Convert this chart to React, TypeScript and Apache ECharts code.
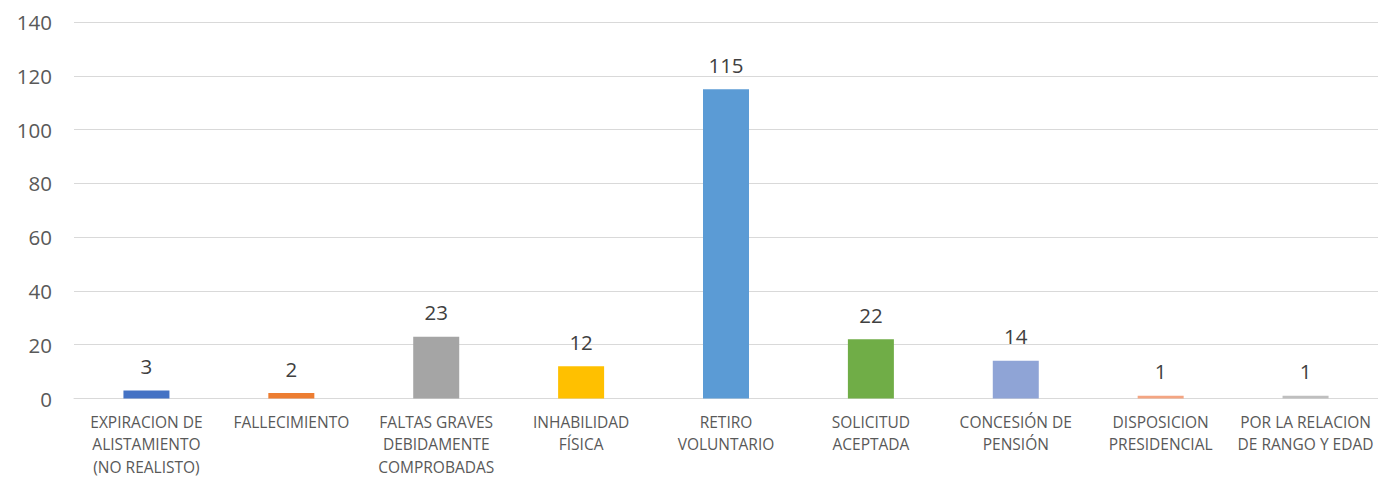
import React, { useEffect, useRef } from "react";
import * as echarts from "echarts";

const categories = [
  "EXPIRACION DE\nALISTAMIENTO\n(NO REALISTO)",
  "FALLECIMIENTO",
  "FALTAS GRAVES\nDEBIDAMENTE\nCOMPROBADAS",
  "INHABILIDAD\nFÍSICA",
  "RETIRO\nVOLUNTARIO",
  "SOLICITUD\nACEPTADA",
  "CONCESIÓN DE\nPENSIÓN",
  "DISPOSICION\nPRESIDENCIAL",
  "POR LA RELACION\nDE RANGO Y EDAD",
];
const values = [3, 2, 23, 12, 115, 22, 14, 1, 1];
const barColors = [
  "#4472C4",
  "#ED7D31",
  "#A5A5A5",
  "#FFC000",
  "#5B9BD5",
  "#70AD47",
  "#8FA4D6",
  "#F4A582",
  "#BFBFBF",
];
const yMin = 0;
const yMax = 140;
const yInterval = 20;

export default function App() {
  const ref = useRef<HTMLDivElement>(null);
  useEffect(() => {
    document.body.style.margin = "0";
    document.body.style.overflow = "hidden";
    if (!ref.current) return;
    const chart = echarts.init(ref.current, null, { renderer: "svg" });
    const font = "'Open Sans', 'Noto Sans', sans-serif";
    chart.setOption({
      animation: false,
      backgroundColor: "#ffffff",
      grid: { left: 74, right: 0, top: 22, bottom: 78, containLabel: false },
      xAxis: {
        type: "category",
        data: categories,
        axisLine: { show: true, lineStyle: { color: "#D9D9D9", width: 1 } },
        axisTick: { show: false },
        axisLabel: {
          interval: 0,
          color: "#595959",
          fontFamily: font,
          fontSize: 15.5,
          lineHeight: 22.5,
          margin: 12,
        },
      },
      yAxis: {
        type: "value",
        min: yMin,
        max: yMax,
        interval: yInterval,
        axisLine: { show: false },
        axisTick: { show: false },
        splitLine: { lineStyle: { color: "#D9D9D9", width: 1 } },
        axisLabel: {
          color: "#595959",
          fontFamily: font,
          fontSize: 20.5,
          margin: 22,
        },
      },
      series: [
        {
          type: "bar",
          data: values.map((v, i) => ({ value: v, itemStyle: { color: barColors[i] } })),
          barWidth: 46,
          label: {
            show: true,
            position: "top",
            distance: 14,
            color: "#404040",
            fontFamily: font,
            fontSize: 20.5,
          },
        },
      ],
    });
    return () => chart.dispose();
  }, []);
  return <div ref={ref} style={{ width: 1378, height: 478 }} />;
}
